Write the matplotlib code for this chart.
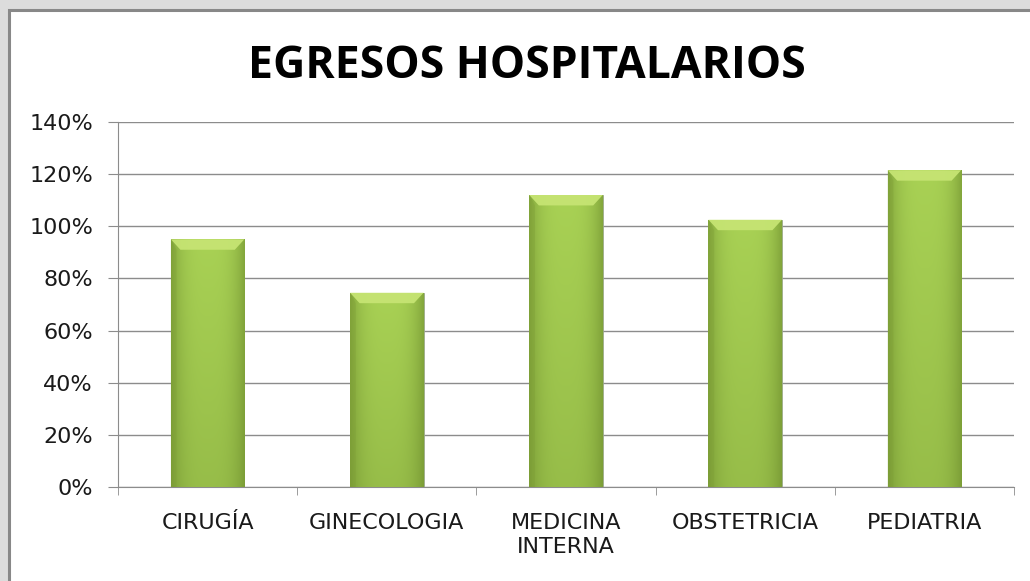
import numpy as np
import matplotlib.pyplot as plt
from matplotlib.patches import Rectangle, Polygon
from matplotlib.ticker import PercentFormatter

# Datos del gráfico
servicios = ["CIRUGÍA", "GINECOLOGIA", "MEDICINA\nINTERNA", "OBSTETRICIA", "PEDIATRIA"]
egresos = [0.95, 0.745, 1.12, 1.025, 1.215]  # porcentaje (fracción)
yticks = [0, 0.2, 0.4, 0.6, 0.8, 1.0, 1.2, 1.4]

plt.rcParams['font.family'] = ['DejaVu Sans']

fig = plt.figure(figsize=(10.30, 5.81), dpi=100)
fig.patch.set_facecolor('#dcdcdc')

# Marco blanco con borde gris (se sale por la derecha y por abajo)
W, H = 1030, 581
marco = Rectangle((8.5 / W, -0.05), 1.1, (H - 10) / H + 0.05, transform=fig.transFigure,
                  facecolor='white', edgecolor='#888888', linewidth=2.2, zorder=-5)
fig.patches.append(marco)

ax = fig.add_axes([118 / W, 1 - 487 / H, (1014 - 118) / W, (487 - 122) / H])
ax.set_facecolor('none')
ax.set_zorder(2)

x = np.arange(len(servicios))
barras = ax.bar(x, egresos, width=0.41, color='#9bc24a', zorder=3)

ax.set_xlim(-0.5, len(servicios) - 0.5)
ax.set_ylim(0, 1.4)
ax.set_yticks(yticks)
ax.yaxis.set_major_formatter(PercentFormatter(1.0, decimals=0))

# Gradiente de cada barra
nx, ny = 64, 64
u = np.linspace(0, 1, nx)
v = np.linspace(0, 1, ny)
U, V = np.meshgrid(u, v)
luz = 1 - 0.55 * np.abs(2 * U - 1) ** 3          # bordes más oscuros
luz = luz * (0.74 + 0.26 * V)                       # más oscuro hacia abajo
claro = np.array([0.66, 0.82, 0.33])
oscuro = np.array([0.40, 0.52, 0.16])
img = oscuro + (claro - oscuro) * luz[..., None]

for b in barras:
    x0, y0 = b.get_x(), b.get_y()
    w, h = b.get_width(), b.get_height()
    im = ax.imshow(img, extent=[x0, x0 + w, y0, y0 + h], origin='lower',
                   aspect='auto', interpolation='bicubic', zorder=4)
    im.set_clip_path(b)
    # bisel superior
    bh = 0.04
    bw = w * 0.13
    bisel = Polygon([[x0, y0 + h], [x0 + w, y0 + h], [x0 + w - bw, y0 + h - bh],
                     [x0 + bw, y0 + h - bh]], closed=True,
                    facecolor='#c6e473', edgecolor='none', alpha=0.95, zorder=5)
    ax.add_patch(bisel)
    lado_i = Polygon([[x0, y0 + h], [x0 + bw * 0.6, y0 + h - bh], [x0 + bw * 0.6, y0],
                      [x0, y0]], closed=True, facecolor='#7d9d36', edgecolor='none',
                     alpha=0.35, zorder=5)
    ax.add_patch(lado_i)
    b.set_edgecolor('#9aa88a')
    b.set_linewidth(0.6)

# Rejilla y ejes
ax.grid(axis='y', color='#8c8c8c', linewidth=1.0, zorder=1)
ax.set_axisbelow(True)
for lado in ['top', 'right']:
    ax.spines[lado].set_visible(False)
ax.spines['left'].set_color('#8c8c8c')
ax.spines['bottom'].set_color('#8c8c8c')

ax.tick_params(axis='y', length=7, color='#8c8c8c', labelsize=16, pad=11, labelcolor='#1a1a1a')
ax.set_xticks(x)
ax.set_xticklabels(servicios, fontsize=16, color='#1a1a1a', linespacing=1.25)
ax.tick_params(axis='x', which='major', length=0, pad=19)
ax.set_xticks(np.arange(-0.5, len(servicios), 1.0), minor=True)
ax.tick_params(axis='x', which='minor', length=6, color='#8c8c8c')

fig.text(0.512, 1 - 66 / H, "EGRESOS HOSPITALARIOS", ha='center', va='center',
         fontsize=32, fontweight='bold', color='black', family='Open Sans')

fig.savefig('out.png', dpi=100, facecolor=fig.get_facecolor())
